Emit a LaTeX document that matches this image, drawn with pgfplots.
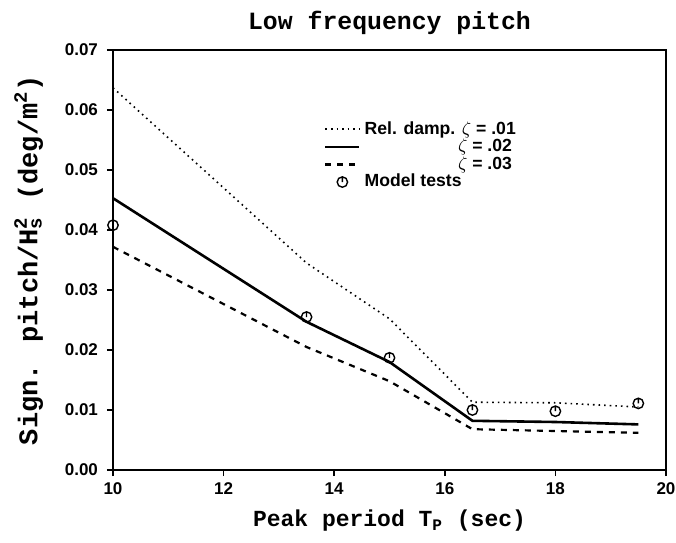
\documentclass[border=0pt]{standalone}
\usepackage{pgfplots}
\pgfplotsset{compat=1.18}
\usepackage{fontspec}
\setmainfont{Liberation Sans}
\newfontfamily\slabfont{Liberation Mono}
\pgfdeclareplotmark{otick}{%
  \pgfpathcircle{\pgfpoint{0pt}{0pt}}{\pgfplotmarksize}%
  \pgfpathmoveto{\pgfpoint{0pt}{\pgfplotmarksize}}%
  \pgfpathlineto{\pgfpoint{0pt}{0pt}}%
  \pgfusepathqstroke}
\begin{document}
\begin{tikzpicture}
\useasboundingbox (-56.5pt,-36pt) rectangle (281.5pt,235pt);
\begin{axis}[at={(0,0)},anchor=south west,scale only axis,
  width=276.5pt,height=210pt,
  xmin=10,xmax=20,ymin=0,ymax=0.07,
  xtick={10,12,...,20},ytick={0,0.01,...,0.07},
  xtick pos=left,ytick pos=left,tick align=outside,
  major tick length=3pt,
  axis line style={line width=0.9pt},
  tick style={line width=0.8pt,black},
  /pgf/number format/assume math mode=true,
  ticklabel style={font=\fontsize{8.5}{10}\selectfont\bfseries},
  yticklabel style={xshift=-1pt,/pgf/number format/.cd,fixed,fixed zerofill,precision=2},
  scaled y ticks=false,
  title={\slabfont\bfseries\fontsize{12.4}{14}\selectfont Low frequency pitch},
  title style={yshift=-2pt},
  xlabel={\slabfont\bfseries\fontsize{11.5}{13}\selectfont Peak period T\textsubscript{P} (sec)},
  ylabel={\slabfont\bfseries\fontsize{13.5}{15}\selectfont Sign. pitch/H\rlap{\textsuperscript{2}}\textsubscript{s} (deg/m\textsuperscript{2})},
  xlabel style={yshift=-0.5pt},
  ylabel style={yshift=4pt},
  legend style={draw=none,fill=none,at={(0.37,0.85)},anchor=north west,
    font=\fontsize{8.8}{10}\selectfont\bfseries,row sep=-3pt},
  legend cell align=left,
]
\addplot[black,dotted,line width=0.8pt] coordinates {
(10,0.0637) (13.5,0.0345) (15,0.0252) (16.5,0.0113) (18,0.0112) (19.5,0.0105)};
\addlegendentry{Rel. damp. $\zeta$ = .01}
\addplot[black,line width=1.3pt] coordinates {
(10,0.0453) (13.5,0.0247) (15,0.0180) (16.5,0.0082) (18,0.0080) (19.5,0.0076)};
\addlegendentry{\hspace{5.3em}$\zeta$ = .02}
\addplot[black,dashed,line width=1.1pt] coordinates {
(10,0.0372) (13.5,0.0205) (15,0.0148) (16.5,0.0068) (18,0.0065) (19.5,0.0062)};
\addlegendentry{\hspace{5.3em}$\zeta$ = .03}
\addplot[black,only marks,mark=otick,mark size=2.6pt,line width=0.7pt] coordinates {
(10,0.0408) (13.5,0.0255) (15,0.0187) (16.5,0.0100) (18,0.0098) (19.5,0.0111)};
\addlegendentry{Model tests}
\end{axis}
\end{tikzpicture}
\end{document}
